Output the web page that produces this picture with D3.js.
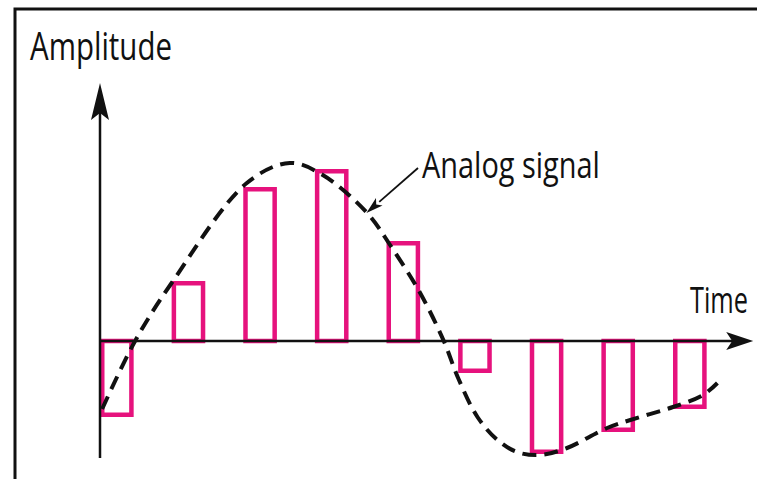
<!DOCTYPE html>
<html>
<head>
<meta charset="utf-8">
<script src="https://cdn.jsdelivr.net/npm/d3@7"></script>
<style>
  html, body { margin: 0; padding: 0; background: #fff; }
  svg { display: block; }
  text { font-family: "Open Sans", "Noto Sans", sans-serif; fill: #111; }
</style>
</head>
<body>
<svg id="chart" width="757" height="479"></svg>
<script>
// ---- data ----
const sampleTimes = [0, 1, 2, 3, 4, 5, 6, 7, 8];
const sampleValues = [-3.8, 3.0, 7.7, 8.6, 5.0, -1.6, -5.65, -4.55, -3.4];
const analogTimes = [0.03, 0.49, 1.0, 2.05, 2.65, 3.11, 3.73, 4.05, 4.47, 4.80, 5.0, 5.27, 5.55, 5.82, 6.14, 6.52, 7.08, 7.54, 8.0, 8.42, 8.62];
const analogValues = [-3.4, 0, 2.9, 7.9, 8.9, 8.3, 6.4, 4.8, 2.4, 0, -1.85, -3.8, -4.95, -5.55, -5.7, -5.35, -4.35, -3.8, -3.3, -2.7, -2.1];
const labels = { y: "Amplitude", x: "Time", curve: "Analog signal" };
const barWidthUnits = 0.47;
const axisExtent = { yMin: -5.85, yMax: 12.9, xMax: 9.12 };
const annotation = { from: [4.44, 8.65], to: [3.72, 6.4] };

// ---- scales ----
const x = d3.scaleLinear().domain([0, 8]).range([100, 673]);
const y = d3.scaleLinear().domain([-10, 10]).range([541, 141]);

const svg = d3.select("#chart");
const pink = "#e6127d";

// frame
svg.append("path")
  .attr("d", "M15,479 L15,9 L757,9")
  .attr("fill", "none").attr("stroke", "#111").attr("stroke-width", 3);

// sample bars
const bw = x(barWidthUnits) - x(0);
const sw = 4.5;
svg.append("g").selectAll("rect")
  .data(sampleTimes.map((t, i) => ({ t, v: sampleValues[i] })))
  .join("rect")
  .attr("x", d => x(d.t) + sw / 2)
  .attr("width", bw - sw)
  .attr("y", d => Math.min(y(d.v), y(0)) + (d.v > 0 ? sw / 2 : 0))
  .attr("height", d => Math.abs(y(d.v) - y(0)) - sw / 2)
  .attr("fill", "none")
  .attr("stroke", pink)
  .attr("stroke-width", sw);

// axes
const ax = svg.append("g");
ax.append("line")
  .attr("x1", x(0)).attr("x2", x(0))
  .attr("y1", y(axisExtent.yMin)).attr("y2", y(axisExtent.yMax) + 10)
  .attr("stroke", "#111").attr("stroke-width", 2.5);
ax.append("line")
  .attr("x1", x(0)).attr("x2", x(axisExtent.xMax) - 10)
  .attr("y1", y(0)).attr("y2", y(0))
  .attr("stroke", "#111").attr("stroke-width", 2.5);
// y arrowhead
const ty = [x(0), y(axisExtent.yMax)];
ax.append("path")
  .attr("d", `M${ty[0]},${ty[1]} L${ty[0] + 9},${ty[1] + 37} L${ty[0]},${ty[1] + 30} L${ty[0] - 9},${ty[1] + 37} Z`)
  .attr("fill", "#111");
// x arrowhead
const tx = [x(axisExtent.xMax), y(0)];
ax.append("path")
  .attr("d", `M${tx[0]},${tx[1]} L${tx[0] - 27},${tx[1] - 9} L${tx[0] - 21},${tx[1]} L${tx[0] - 27},${tx[1] + 9} Z`)
  .attr("fill", "#111");

// analog curve
const line = d3.line().x(d => x(d[0])).y(d => y(d[1])).curve(d3.curveCatmullRom.alpha(0.5));
svg.append("path")
  .datum(analogTimes.map((t, i) => [t, analogValues[i]]))
  .attr("d", line)
  .attr("fill", "none")
  .attr("stroke", "#111")
  .attr("stroke-width", 4)
  .attr("stroke-dasharray", "14,8");

// annotation arrow
const a0 = [x(annotation.from[0]), y(annotation.from[1])];
const a1 = [x(annotation.to[0]), y(annotation.to[1])];
const ang = Math.atan2(a1[1] - a0[1], a1[0] - a0[0]);
const L = 17, W = 5;
const bx = a1[0] - L * Math.cos(ang), by = a1[1] - L * Math.sin(ang);
svg.append("line")
  .attr("x1", a0[0]).attr("y1", a0[1]).attr("x2", bx).attr("y2", by)
  .attr("stroke", "#111").attr("stroke-width", 1.8);
svg.append("path")
  .attr("d", `M${a1[0]},${a1[1]} L${bx + W * Math.sin(ang)},${by - W * Math.cos(ang)} L${bx + 4 * Math.cos(ang)},${by + 4 * Math.sin(ang)} L${bx - W * Math.sin(ang)},${by + W * Math.cos(ang)} Z`)
  .attr("fill", "#111");

// labels (condensed via horizontal scale to match the narrow face)
function label(txt, px, py, size, targetW) {
  const t = svg.append("text").text(txt).attr("font-size", size).attr("x", 0).attr("y", 0);
  const w = t.node().getComputedTextLength() || targetW;
  t.attr("transform", `translate(${px},${py}) scale(${targetW / w},1)`);
}
label(labels.y, 30, 60, 38, 142);
label(labels.x, 690, 313, 36, 58);
label(labels.curve, 422, 178, 36, 178);
</script>
</body>
</html>
